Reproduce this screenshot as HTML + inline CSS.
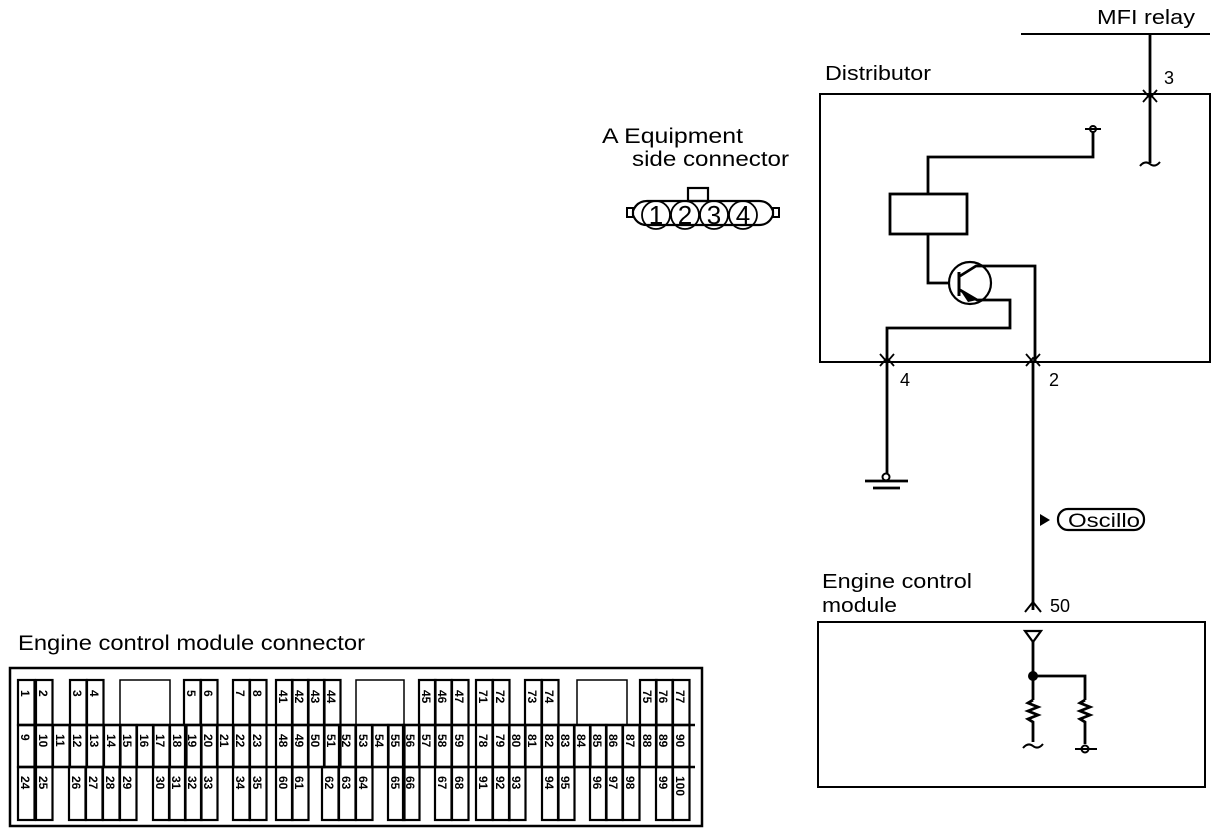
<!DOCTYPE html>
<html><head><meta charset="utf-8"><style>
body{margin:0;background:#fff}
svg{display:block}
text{font-family:"Liberation Sans",sans-serif;fill:#000}
</style></head><body>
<svg id="s" width="1216" height="836" viewBox="0 0 1216 836" xmlns="http://www.w3.org/2000/svg">
<g fill="none" stroke="#000" stroke-width="2.8">
<line x1="1021" y1="34" x2="1210" y2="34" stroke-width="2"/>
<line x1="1150" y1="34" x2="1150" y2="163"/>
<path d="M1140 166 q5 -6 10 -2 q5 4 10 -2" stroke-width="2"/>
<path d="M1143 102 l7 -8 l7 8 M1143 90 l7 8 l7 -8" stroke-width="1.8"/>
<rect x="820" y="94" width="390" height="268" stroke-width="2"/>
<circle cx="1093" cy="129" r="3" stroke-width="2"/>
<line x1="1085" y1="129" x2="1101" y2="129" stroke-width="2"/>
<polyline points="1093,132 1093,157 928,157 928,194"/>
<rect x="890" y="194" width="77" height="40"/>
<polyline points="928,234 928,283 950,283"/>
<circle cx="970" cy="283" r="21" stroke-width="2.2"/>
<line x1="959" y1="272" x2="959" y2="296" stroke-width="3"/>
<polyline points="960,276 976,266 1035,266 1035,362"/>
<polyline points="960,290 977,300 1010,300 1010,328 887,328 887,362"/>
<path d="M880 354 l7 8 l7 -8 M880 366 l7 -8 l7 8 M1026 354 l7 8 l7 -8 M1026 366 l7 -8 l7 8" stroke-width="1.8"/>
<line x1="887" y1="362" x2="887" y2="474"/>
<line x1="1033" y1="362" x2="1033" y2="610"/>
<circle cx="886" cy="477" r="3.5" stroke-width="2"/>
<line x1="865" y1="481" x2="908" y2="481"/>
<line x1="873" y1="488" x2="900" y2="488"/>
<rect x="1058" y="509" width="86" height="21" rx="10" stroke-width="2.2"/>
<path d="M1025 612 l8 -10 l8 10" stroke-width="2"/>
<rect x="818" y="622" width="387" height="165" stroke-width="2"/>
<polyline points="1033,642 1033,676 1085,676 1085,700"/>
<line x1="1033" y1="676" x2="1033" y2="700"/>
<path d="M1033 700 l-5 3 l10 4 l-10 4 l10 4 l-10 4 l5 3 v20 M1085 700 l-5 3 l10 4 l-10 4 l10 4 l-10 4 l5 3 v22"/>
<path d="M1023 748 q5 -6 10 -2 q5 4 10 -2" stroke-width="2"/>
<circle cx="1085" cy="749" r="3.5" stroke-width="2"/>
<line x1="1075" y1="749" x2="1097" y2="749" stroke-width="2"/>
<path d="M647 201 h112 q10 0 14 10 v4 q-4 10 -14 10 h-112 q-10 0 -14 -10 v-4 q4 -10 14 -10z" stroke-width="2.2"/>
<rect x="627" y="208" width="6" height="9" stroke-width="2"/><rect x="773" y="208" width="6" height="9" stroke-width="2"/>
<rect x="688" y="188" width="20" height="13" stroke-width="2.2"/>
<circle cx="656" cy="215" r="14" stroke-width="1.8"/><circle cx="685" cy="215" r="14" stroke-width="1.8"/><circle cx="714" cy="215" r="14" stroke-width="1.8"/><circle cx="743" cy="215" r="14" stroke-width="1.8"/>
<rect x="10" y="668" width="692" height="158" stroke-width="2.5"/>
</g>
<polygon points="1040,514 1040,526 1050,520" fill="#000"/>
<path d="M1025 631 h16 l-8 11 z" fill="none" stroke="#000" stroke-width="2.2"/>
<circle cx="1033" cy="676" r="5" fill="#000"/>
<polygon points="960,290 977,300 968,302" fill="#000"/>
<text x="1097" y="24" font-size="20" textLength="98" lengthAdjust="spacingAndGlyphs">MFI relay</text>
<text x="1164" y="84" font-size="18">3</text>
<text x="825" y="80" font-size="20" textLength="106" lengthAdjust="spacingAndGlyphs">Distributor</text>
<text x="900" y="386" font-size="18">4</text>
<text x="1049" y="386" font-size="18">2</text>
<text x="1068" y="527" font-size="19" textLength="72" lengthAdjust="spacingAndGlyphs">Oscillo</text>
<text x="822" y="588" font-size="20" textLength="150" lengthAdjust="spacingAndGlyphs">Engine control</text>
<text x="822" y="612" font-size="20" textLength="75" lengthAdjust="spacingAndGlyphs">module</text>
<text x="1050" y="612" font-size="18">50</text>
<text x="602" y="143" font-size="21" textLength="141" lengthAdjust="spacingAndGlyphs">A  Equipment</text>
<text x="632" y="166" font-size="21" textLength="157" lengthAdjust="spacingAndGlyphs">side  connector</text>
<g font-size="26" text-anchor="middle">
<text x="656" y="224">1</text><text x="685" y="224">2</text><text x="714" y="224">3</text><text x="743" y="224">4</text></g>
<text x="18" y="650" font-size="21" textLength="347" lengthAdjust="spacingAndGlyphs">Engine control module connector</text>
<g id="cells"></g>
</svg>
<script>
const g=document.getElementById('cells');const NS='http://www.w3.org/2000/svg';
function cell(n,x,y1,y2,ty){
 const r=document.createElementNS(NS,'rect');r.setAttribute('x',x-8);r.setAttribute('y',y1);r.setAttribute('width',16.5);r.setAttribute('height',y2-y1);
 r.setAttribute('fill','none');r.setAttribute('stroke','#000');r.setAttribute('stroke-width','2.2');g.appendChild(r);
 const t=document.createElementNS(NS,'text');t.setAttribute('font-size','12');t.setAttribute('font-weight','bold');
 t.setAttribute('transform','translate('+(x-5)+','+ty+') rotate(90)');t.textContent=n;g.appendChild(t);}
const r1=[[1,26],[2,44],[3,78],[4,95],[5,192],[6,209],[7,241],[8,258],[41,284],[42,300],[43,316],[44,332],[45,427],[46,443],[47,460],[71,484],[72,501],[73,533],[74,550],[75,648],[76,664],[77,681]];
const r2=[[9,26],[10,44],[11,61],[12,78],[13,95],[14,112],[15,128],[16,145],[17,161],[18,178],[19,193],[20,209],[21,225],[22,241],[23,258],[48,284],[49,300],[50,316],[51,332],[52,347],[53,364],[54,380],[55,396],[56,411],[57,427],[58,443],[59,460],[78,484],[79,501],[80,517],[81,533],[82,550],[83,566],[84,582],[85,598],[86,614],[87,631],[88,648],[89,664],[90,681]];
const r3=[[24,26],[25,44],[26,77],[27,94],[28,111],[29,128],[30,161],[31,177],[32,193],[33,209],[34,241],[35,258],[60,284],[61,300],[62,330],[63,347],[64,364],[65,396],[66,411],[67,443],[68,460],[91,484],[92,501],[93,517],[94,550],[95,566],[96,598],[97,614],[98,631],[99,664],[100,681]];
r1.forEach(a=>cell(a[0],a[1],680,725,690));
r2.forEach(a=>cell(a[0],a[1],725,767,734));
r3.forEach(a=>cell(a[0],a[1],767,820,776));
[[120,680,50,45],[356,680,48,45],[577,680,50,45]].forEach(b=>{const r=document.createElementNS(NS,'rect');r.setAttribute('x',b[0]);r.setAttribute('y',b[1]);r.setAttribute('width',b[2]);r.setAttribute('height',b[3]);r.setAttribute('fill','none');r.setAttribute('stroke','#000');r.setAttribute('stroke-width','1.5');g.appendChild(r);});
[[18,695,725],[18,695,767]].forEach(l=>{const e=document.createElementNS(NS,'line');e.setAttribute('x1',l[0]);e.setAttribute('x2',l[1]);e.setAttribute('y1',l[2]);e.setAttribute('y2',l[2]);e.setAttribute('stroke','#000');e.setAttribute('stroke-width','2.5');g.appendChild(e);});
</script>
</body></html>
